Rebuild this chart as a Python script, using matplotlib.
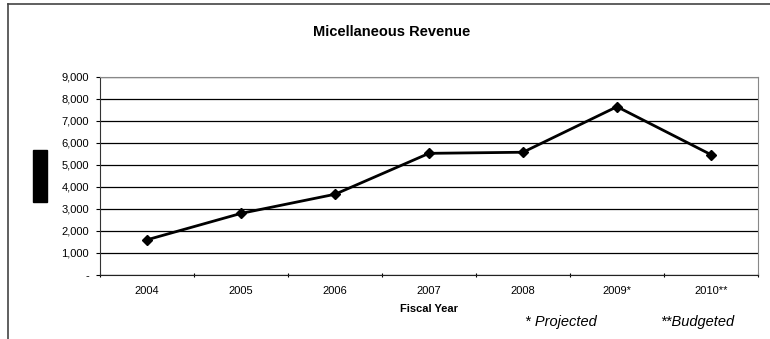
import matplotlib.pyplot as plt
from matplotlib.lines import Line2D
from matplotlib.patches import Rectangle

plt.rcParams['font.family'] = ['Liberation Sans', 'DejaVu Sans']

# Miscellaneous revenue by fiscal year
years = ['2004', '2005', '2006', '2007', '2008', '2009*', '2010**']
revenue = [1600, 2800, 3670, 5530, 5580, 7650, 5470]
y_ticks = [0, 1000, 2000, 3000, 4000, 5000, 6000, 7000, 8000, 9000]
y_labels = ['-', '1,000', '2,000', '3,000', '4,000', '5,000', '6,000', '7,000', '8,000', '9,000']

W, H = 770, 339
fig = plt.figure(figsize=(W / 100, H / 100), dpi=100)
ax = fig.add_axes([100 / W, 1 - 275 / H, 658 / W, 198 / H])

x = list(range(len(years)))
ax.plot(x, revenue, color='black', lw=2, marker='D', markersize=5.5, zorder=3)

ax.set_xlim(-0.5, len(years) - 0.5)
ax.set_ylim(0, 9000)
ax.set_yticks(y_ticks)
ax.set_yticklabels(y_labels, fontsize=8)
ax.set_xticks(x)
ax.set_xticklabels(years, fontsize=8)
ax.tick_params(axis='x', length=0, pad=8)
ax.tick_params(axis='y', length=3, width=0.8, pad=5)
# category boundary ticks on the x axis
ax.set_xticks([i - 0.5 for i in range(len(years) + 1)], minor=True)
ax.tick_params(axis='x', which='minor', length=3, width=0.8, direction='inout')

ax.grid(axis='y', color='black', lw=0.9)
ax.set_axisbelow(True)
for side in ['top', 'right']:
    ax.spines[side].set_color('#888888')
ax.spines['left'].set_color('#333333')
ax.spines['bottom'].set_color('#222222')

ax.set_xlabel('Fiscal Year', fontsize=8, fontweight='bold', labelpad=6)
fig.text(392 / W, 1 - 32 / H, 'Micellaneous Revenue', ha='center', va='center',
         fontsize=10.5, fontweight='bold')
fig.text(561 / W, 1 - 322 / H, '* Projected', ha='center', va='center',
         fontsize=10.5, style='italic')
fig.text(697 / W, 1 - 322 / H, '**Budgeted', ha='center', va='center',
         fontsize=10.5, style='italic')

# outer frame and label block
fig.add_artist(Line2D([8 / W, 1], [1 - 4 / H, 1 - 4 / H], color='#444444', lw=1.2))
fig.add_artist(Line2D([8 / W, 8 / W], [0, 1 - 4 / H], color='#444444', lw=1.2))
fig.add_artist(Rectangle((33 / W, 1 - 202 / H), 14 / W, 52 / H, color='black'))

fig.savefig('out.png', dpi=100)
